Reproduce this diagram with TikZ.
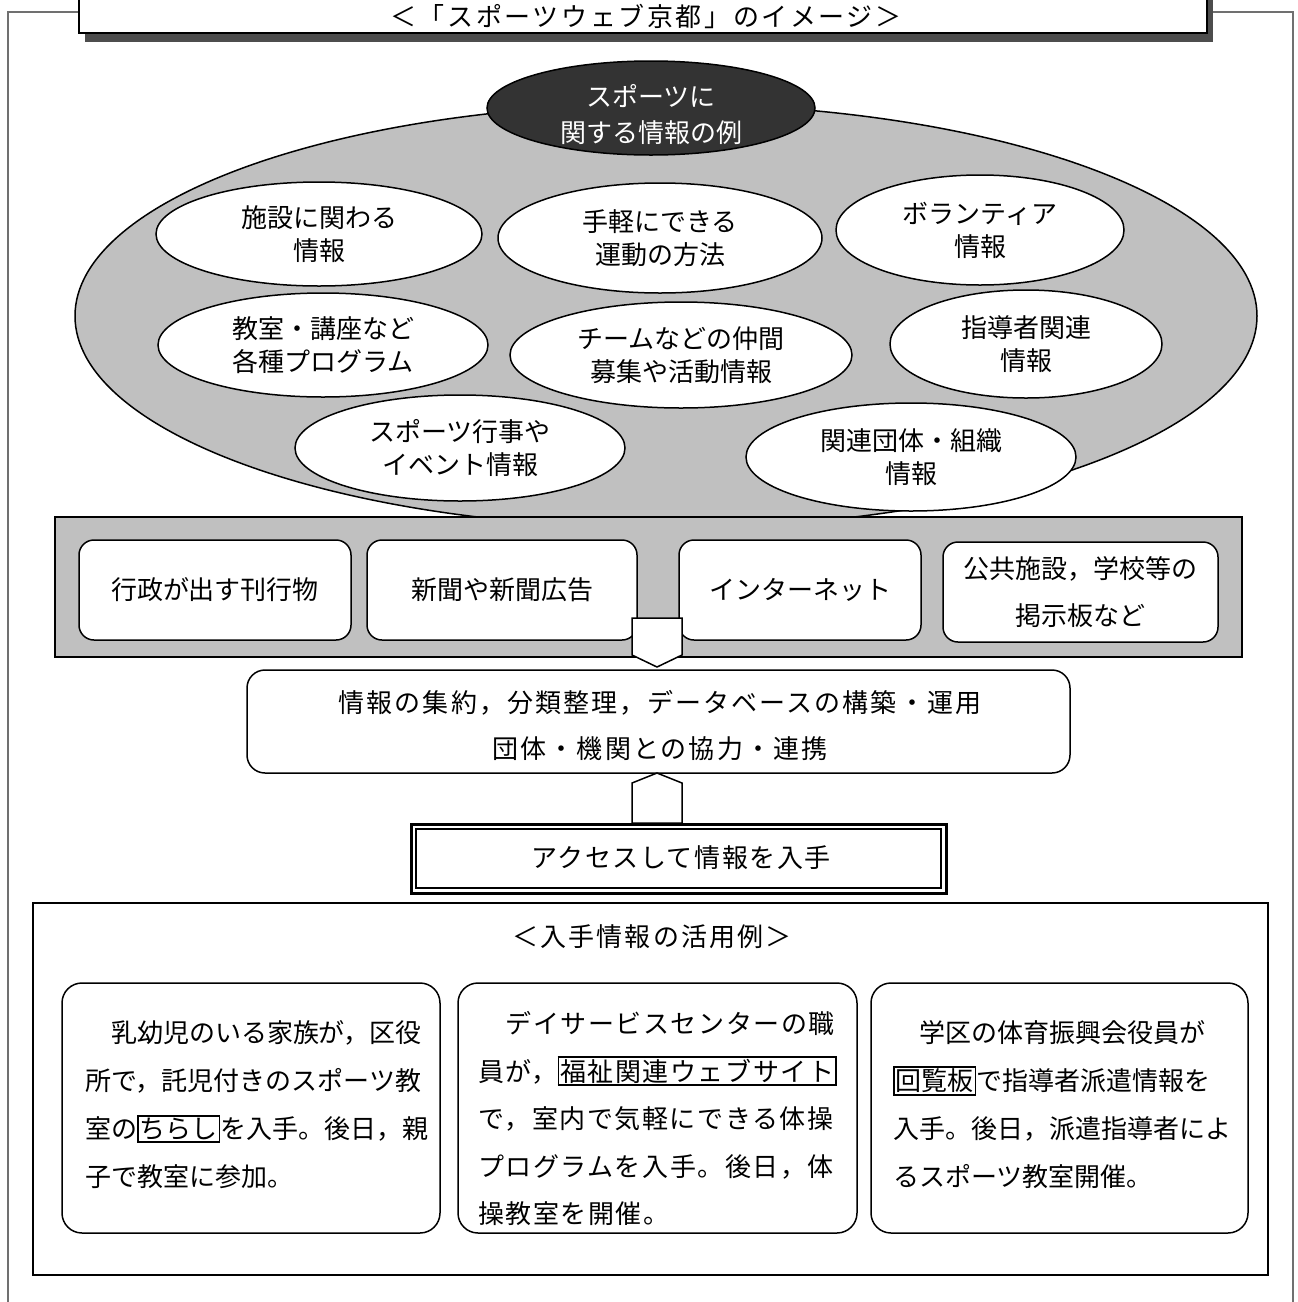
\documentclass[tikz,border=0pt]{standalone}
\usepackage{fontspec}
\setmainfont{Noto Sans CJK JP}
\newfontfamily\jpwide[LetterSpace=8]{Noto Sans CJK JP}
\newfontfamily\jpmid[LetterSpace=6]{Noto Sans CJK JP}
\newfontfamily\jptitle[LetterSpace=10]{Noto Sans CJK JP}
\usetikzlibrary{shapes.geometric}
\definecolor{midgray}{HTML}{C0C0C0}
\definecolor{darkfill}{HTML}{333333}
\definecolor{shadowgray}{HTML}{4D4D4D}
\definecolor{framegray}{HTML}{707070}
\newcommand\bx[1]{{\setlength\fboxsep{0.5pt}\setlength\fboxrule{0.8pt}\fbox{#1}}}
\begin{document}
\begin{tikzpicture}[x=0.5pt,y=-0.5pt,
  every node/.style={inner sep=0pt,outer sep=0pt},
  jfont/.style={font=\fontsize{13pt}{16.5pt}\selectfont},
  wellipse/.style={ellipse,draw,fill=white,line width=0.75pt,align=center,jfont},
  srcbox/.style={rectangle,draw,fill=white,rounded corners=7.5pt,line width=0.75pt,minimum height=50pt,align=center,font=\fontsize{13pt}{23.5pt}\selectfont},
  blockarrow/.style={draw,fill=white,line width=0.75pt,line join=miter},
  casebox/.style={rectangle,draw,rounded corners=10pt,line width=0.75pt,minimum height=125pt},
  caseline/.style={anchor=west,font=\fontsize{13pt}{13pt}\selectfont},
  caselineb/.style={anchor=west,font=\jpmid\fontsize{13pt}{13pt}\selectfont},
]
\useasboundingbox (0,0) rectangle (1297,1302);

% outer frame
\draw[framegray,line width=1pt] (8,1320) -- (8,12) -- (1293,12) -- (1293,1320);

% title
\fill[shadowgray] (85,-10) rectangle (1213,42);
\node[draw,fill=white,line width=1pt,minimum width=564pt,minimum height=21.5pt] (titlebox) at (643,11.5) {};
\node[font=\jptitle\fontsize{13pt}{13pt}\selectfont] (titletext) at (646,16) {＜「スポーツウェブ京都」のイメージ＞};

% big ellipse
\node[ellipse,draw,fill=midgray,line width=0.75pt,minimum width=591pt,minimum height=212pt] (bigell) at (666,316) {};
\node[ellipse,draw,fill=darkfill,line width=0.75pt,minimum width=164pt,minimum height=47pt] (topell) at (651,108) {};
\node[align=center,text=white,font=\fontsize{13pt}{18pt}\selectfont] (toptext) at (651,115) {スポーツに\\関する情報の例};

\node[wellipse,minimum width=163pt,minimum height=52pt] (e1) at (319,234) {施設に関わる\\情報};
\node[wellipse,minimum width=162pt,minimum height=55pt] (e2) at (660,238) {手軽にできる\\運動の方法};
\node[wellipse,minimum width=144pt,minimum height=55pt] (e3) at (980,230) {ボランティア\\情報};
\node[wellipse,minimum width=165pt,minimum height=52pt] (e4) at (323,345) {教室・講座など\\各種プログラム};
\node[wellipse,minimum width=171pt,minimum height=53pt] (e5) at (681,355) {チームなどの仲間\\募集や活動情報};
\node[wellipse,minimum width=136pt,minimum height=54pt] (e6) at (1026,344) {指導者関連\\情報};
\node[wellipse,minimum width=165pt,minimum height=53pt] (e7) at (460,448) {スポーツ行事や\\イベント情報};
\node[wellipse,minimum width=165pt,minimum height=54pt] (e8) at (911,457) {関連団体・組織\\情報};

% sources strip
\node[draw,fill=midgray,line width=1pt,minimum width=593.5pt,minimum height=70pt] (strip) at (648.5,587) {};
\node[srcbox,minimum width=136pt] (s1) at (215,590) {行政が出す刊行物};
\node[srcbox,minimum width=135pt] (s2) at (502,590) {新聞や新聞広告};
\node[srcbox,minimum width=121pt] (s3) at (800,590) {インターネット};
\node[srcbox,minimum width=137.5pt] (s4) at (1080.5,592) {公共施設，学校等の\\掲示板など};

% down arrow
\draw[blockarrow] (632,618) -- (682,618) -- (682,655) -- (657,667) -- (632,655) -- cycle;

% info box
\node[rectangle,draw,fill=white,rounded corners=9pt,line width=0.75pt,minimum width=411.5pt,minimum height=51.5pt] (info) at (658.5,721.5) {};
\node[align=center,font=\jpwide\fontsize{13pt}{23pt}\selectfont] (infotext) at (660,726) {情報の集約，分類整理，データベースの構築・運用\\団体・機関との協力・連携};

% up arrow
\draw[blockarrow] (632,823) -- (632,783) -- (657,773) -- (682,783) -- (682,823) -- cycle;

% access box
\node[draw,line width=1.5pt,fill=white,minimum width=267.5pt,minimum height=34.5pt] (access) at (678.5,858.5) {};
\draw[line width=0.75pt] ([shift={(5,5)}]access.north west) rectangle ([shift={(-5,-5)}]access.south east);
\node[font=\jpmid\fontsize{13pt}{13pt}\selectfont] (accesstext) at (681,858) {アクセスして情報を入手};

% usage examples
\node[draw,line width=1pt,minimum width=617.5pt,minimum height=186pt] (usebox) at (650.5,1089) {};
\node[font=\jpwide\fontsize{13pt}{13pt}\selectfont] (usetitle) at (652,937) {＜入手情報の活用例＞};

\node[casebox,minimum width=189pt] (ca) at (251,1108) {};
\node[casebox,minimum width=199.5pt] (cb) at (657.5,1108) {};
\node[casebox,minimum width=188.5pt] (cc) at (1059.5,1108) {};

\node[caseline] (a1) at (85,1033) {　乳幼児のいる家族が，区役};
\node[caseline] (a2) at (85,1081) {所で，託児付きのスポーツ教};
\node[caseline] (a3) at (85,1129) {室の\bx{ちらし}を入手。後日，親};
\node[caseline] (a4) at (85,1177) {子で教室に参加。};

\node[caselineb] (b1) at (478,1023) {　デイサービスセンターの職};
\node[caselineb] (b2) at (478,1071) {員が，\bx{福祉関連ウェブサイト}};
\node[caselineb] (b3) at (478,1119) {で，室内で気軽にできる体操};
\node[caselineb] (b4) at (478,1167) {プログラムを入手。後日，体};
\node[caselineb] (b5) at (478,1214) {操教室を開催。};

\node[caseline] (c1) at (893,1033) {　学区の体育振興会役員が};
\node[caseline] (c2) at (893,1081) {\bx{回覧板}で指導者派遣情報を};
\node[caseline] (c3) at (893,1129) {入手。後日，派遣指導者によ};
\node[caseline] (c4) at (893,1177) {るスポーツ教室開催。};
\end{tikzpicture}
\end{document}
